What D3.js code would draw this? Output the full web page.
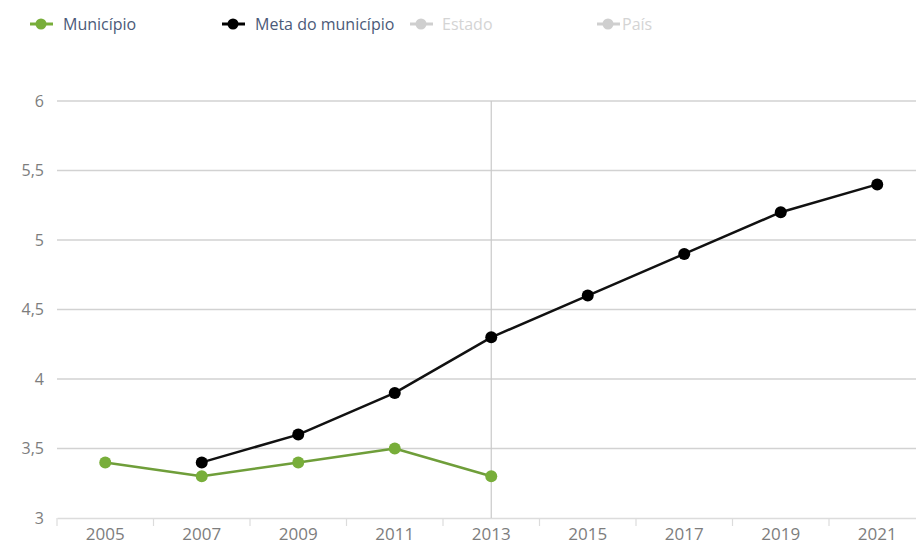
<!DOCTYPE html>
<html>
<head>
<meta charset="utf-8">
<script src="https://cdn.jsdelivr.net/npm/d3@7"></script>
<style>
  html, body { margin: 0; padding: 0; background: #fff; }
  svg { display: block; font-family: "Open Sans", "DejaVu Sans", sans-serif; }
</style>
</head>
<body>
<svg id="chart" width="916" height="545"></svg>
<script>
// Anos (categorias do eixo X)
const years = ["2005", "2007", "2009", "2011", "2013", "2015", "2017", "2019", "2021"];
// IDEB observado no município (null = sem dado)
const municipio = [3.4, 3.3, 3.4, 3.5, 3.3, null, null, null, null];
// Meta projetada para o município
const metaMunicipio = [null, 3.4, 3.6, 3.9, 4.3, 4.6, 4.9, 5.2, 5.4];
// Rótulos do eixo Y
const yTicks = [3, 3.5, 4, 4.5, 5, 5.5, 6];
const yTickLabels = ["3", "3,5", "4", "4,5", "5", "5,5", "6"];
// Legenda
const legendNames = ["Município", "Meta do município", "Estado", "País"];
const legendColors = ["#78ae3a", "#000000", "#cfcfcf", "#cfcfcf"];
const legendTextColors = ["#4b5a78", "#4b5a78", "#d4d4d4", "#d4d4d4"];
const legendX = [41, 233, 421, 608];
// Ano destacado pela linha vertical
const highlightYear = "2013";

const svg = d3.select("#chart");
const plotLeft = 57, plotTop = 101, plotBottom = 518, band = 96.5;

const x = d3.scaleBand().domain(years).range([plotLeft, plotLeft + band * years.length]).paddingInner(0).paddingOuter(0);
const y = d3.scaleLinear().domain([3, 6]).range([plotBottom, plotTop]);

// Linhas de grade horizontais
svg.append("g").selectAll("line")
  .data(yTicks.filter(v => v !== 3))
  .join("line")
  .attr("x1", plotLeft).attr("x2", 916)
  .attr("y1", d => y(d)).attr("y2", d => y(d))
  .attr("stroke", "#d2d2d2").attr("stroke-width", 1.4);

// Rótulos do eixo Y
svg.append("g").selectAll("text")
  .data(yTicks)
  .join("text")
  .attr("x", 44).attr("y", d => y(d))
  .attr("dy", "0.35em")
  .attr("text-anchor", "end")
  .attr("font-size", 16)
  .attr("fill", "#7d7d7d")
  .text((d, i) => yTickLabels[i]);

// Eixo X
const xAxis = d3.axisBottom(x).tickSize(0).tickPadding(10);
const gx = svg.append("g").attr("transform", `translate(0,${plotBottom})`).call(xAxis);
gx.select(".domain").attr("stroke", "#dcdcdc").attr("stroke-width", 1.5);
gx.selectAll("text").attr("font-size", 17).attr("fill", "#7d7d7d")
  .attr("font-family", "\"Open Sans\", sans-serif");

// Marcas entre categorias
svg.append("g").selectAll("line")
  .data(years.map((d, i) => i))
  .join("line")
  .attr("x1", i => x.range()[0] + x.step() * i)
  .attr("x2", i => x.range()[0] + x.step() * i)
  .attr("y1", plotBottom).attr("y2", plotBottom + 8)
  .attr("stroke", "#dcdcdc").attr("stroke-width", 1.2);

// Linha vertical no ano destacado
const hx = x(highlightYear) + x.bandwidth() / 2;
svg.append("line")
  .attr("x1", hx).attr("x2", hx)
  .attr("y1", plotTop).attr("y2", plotBottom)
  .attr("stroke", "#c9c9c9").attr("stroke-width", 1.2);

const cx = d => x(d) + x.bandwidth() / 2;

function drawSeries(values, color, lineColor, width) {
  const pts = years.map((yr, i) => ({ yr, v: values[i] })).filter(p => p.v !== null);
  const line = d3.line().x(p => cx(p.yr)).y(p => y(p.v));
  svg.append("path").datum(pts)
    .attr("d", line)
    .attr("fill", "none")
    .attr("stroke", lineColor)
    .attr("stroke-width", width)
    .attr("stroke-linejoin", "round");
  svg.append("g").selectAll("circle")
    .data(pts)
    .join("circle")
    .attr("cx", p => cx(p.yr))
    .attr("cy", p => y(p.v))
    .attr("r", 6)
    .attr("fill", color);
}

drawSeries(municipio, "#78ae3a", "#6f9e3a", 2.5);
drawSeries(metaMunicipio, "#000000", "#111111", 2.5);

// Legenda
const lg = svg.append("g").selectAll("g")
  .data(legendNames)
  .join("g")
  .attr("transform", (d, i) => `translate(${legendX[i]},24)`);
lg.append("line")
  .attr("x1", -11).attr("x2", 12).attr("y1", 0).attr("y2", 0)
  .attr("stroke", (d, i) => legendColors[i]).attr("stroke-width", 3);
lg.append("circle")
  .attr("r", 5.5).attr("fill", (d, i) => legendColors[i]);
lg.append("text")
  .attr("x", (d, i) => i === 3 ? 14 : (i === 2 ? 21 : 22))
  .attr("dy", "0.35em")
  .attr("font-size", 16)
  .attr("fill", (d, i) => legendTextColors[i])
  .text(d => d);
</script>
</body>
</html>
